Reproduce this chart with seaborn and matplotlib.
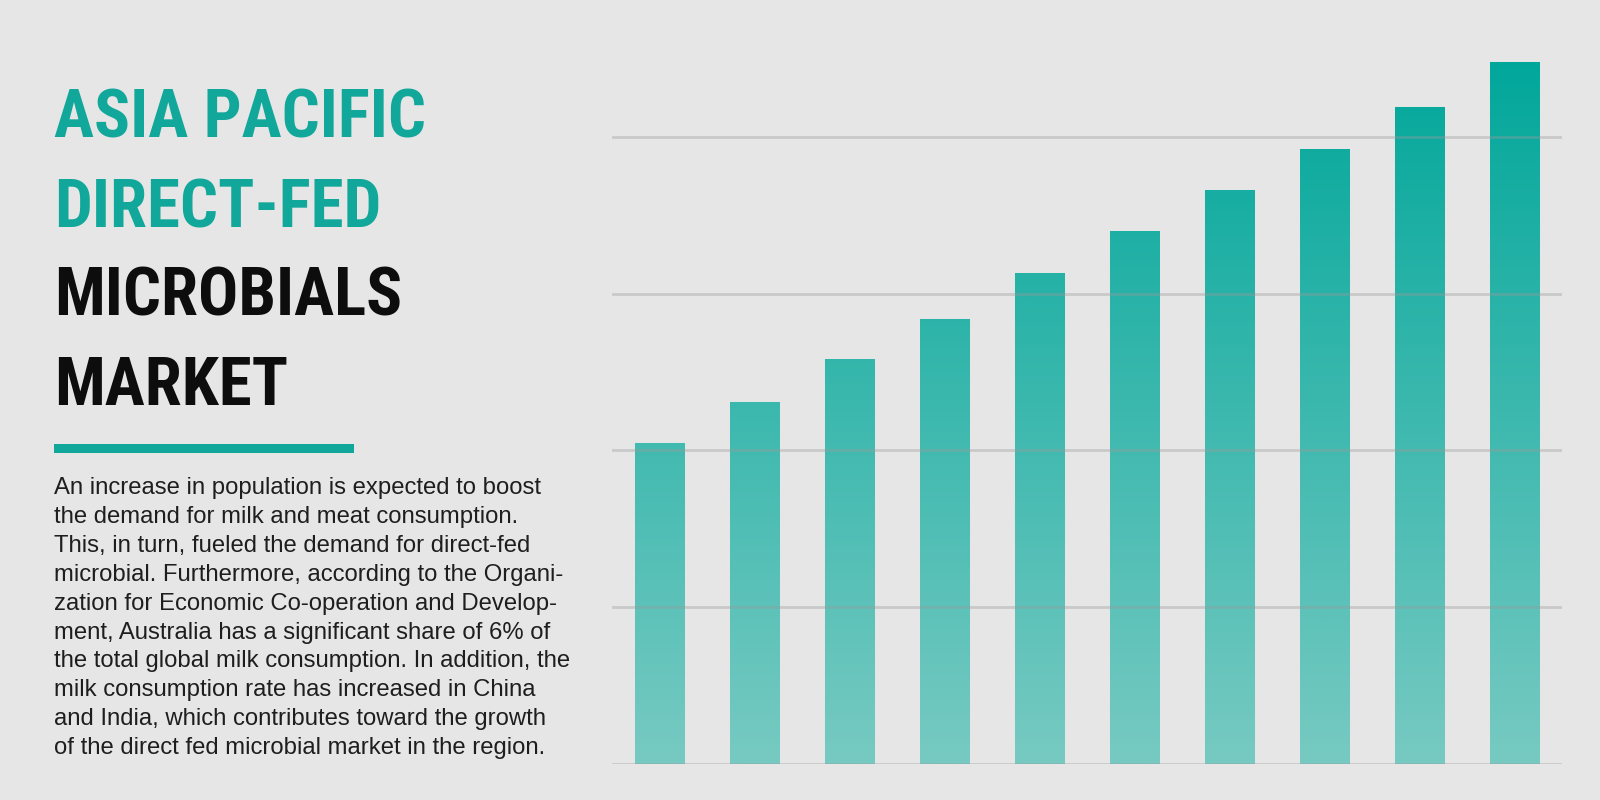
import numpy as np
import pandas as pd
import matplotlib
matplotlib.use("Agg")
import matplotlib.pyplot as plt
import seaborn as sns
from matplotlib.colors import LinearSegmentedColormap, Normalize
from matplotlib.patches import Rectangle

# ---------------- data ----------------
periods = ["P1", "P2", "P3", "P4", "P5", "P6", "P7", "P8", "P9", "P10"]
market_values = [2.05, 2.31, 2.58, 2.84, 3.13, 3.40, 3.66, 3.92, 4.19, 4.48]
grid_ticks = [0, 1, 2, 3, 4]

title_teal_lines = ["ASIA PACIFIC", "DIRECT-FED"]
title_dark_lines = ["MICROBIALS", "MARKET"]
body_lines = [
    "An increase in population is expected to boost",
    "the demand for milk and meat consumption.",
    "This, in turn, fueled the demand for direct-fed",
    "microbial. Furthermore, according to the Organi-",
    "zation for Economic Co-operation and Develop-",
    "ment, Australia has a significant share of 6% of",
    "the total global milk consumption. In addition, the",
    "milk consumption rate has increased in China",
    "and India, which contributes toward the growth",
    "of the direct fed microbial market in the region.",
]

# ---------------- style ----------------
BG = "#e6e6e6"
TEAL = "#12a79b"
BAR_TOP = "#02a79b"
BAR_BOTTOM = "#77cac2"

sns.set_theme(style="white")
plt.rcParams["font.family"] = ["Liberation Sans", "DejaVu Sans"]

W, H = 1600, 800
fig = plt.figure(figsize=(16, 8), dpi=100, facecolor=BG)

# chart axes (pixel geometry -> figure fractions)
ymax = 4.7
ax = fig.add_axes([611.7 / W, 36 / H, 950 / W, ymax * 156.8 / H])
ax.set_facecolor(BG)

df = pd.DataFrame({"period": periods, "value": market_values})
sns.barplot(data=df, x="period", y="value", color=BAR_BOTTOM, width=0.52,
            ax=ax, edgecolor="#b8e6e0", linewidth=0.8, zorder=1)

# vertical gradient (absolute height based) clipped to each bar
cmap = LinearSegmentedColormap.from_list("tealgrad", [BAR_BOTTOM, BAR_TOP])
grad = np.linspace(0, ymax, 400).reshape(-1, 1)
norm = Normalize(vmin=0, vmax=max(market_values), clip=True)
for p in list(ax.patches):
    x0 = p.get_x()
    x1 = x0 + p.get_width()
    im = ax.imshow(grad, extent=[x0, x1, 0, ymax], origin="lower",
                   aspect="auto", cmap=cmap, norm=norm, zorder=1.2,
                   interpolation="bilinear")
    im.set_clip_path(p)

ax.set_xlim(-0.5, len(periods) - 0.5)
ax.set_ylim(0, ymax)
ax.set_yticks(grid_ticks)
ax.set_axisbelow(False)
ax.yaxis.grid(True, color="#9a9a9a", alpha=0.38, linewidth=2)
ax.xaxis.grid(False)
ax.tick_params(length=0, labelleft=False, labelbottom=False)
ax.set_xlabel("")
ax.set_ylabel("")
for s in ax.spines.values():
    s.set_visible(False)

# ---------------- title ----------------
title_font = ["Liberation Sans Narrow", "Roboto Condensed", "DejaVu Sans Condensed",
              "Open Sans Condensed", "DejaVu Sans"]
title_baselines = [137, 227, 316, 405]
title_lines = [(t, TEAL) for t in title_teal_lines] + [(t, "#0d0d0d") for t in title_dark_lines]

renderer = fig.canvas.get_renderer()
# size the condensed display font so the widest line roughly fits its reference width
probe = fig.text(0, 0, title_teal_lines[0], fontsize=50, fontweight="bold",
                 family=title_font, fontstretch="condensed")
bb = probe.get_window_extent(renderer)
probe.remove()
size_w = 50 * 348 / bb.width * 1.07
size_h = 60.0
title_size = min(size_w, size_h)

for (txt, col), yb in zip(title_lines, title_baselines):
    fig.text(54 / W, 1 - yb / H, txt, color=col, fontsize=title_size, fontweight="bold",
             family=title_font, fontstretch="condensed", va="baseline", ha="left")

# underline bar
fig.add_artist(Rectangle((54 / W, 1 - 453 / H), 300 / W, 9 / H,
                         transform=fig.transFigure, color=TEAL, lw=0))

# ---------------- body text ----------------
for i, line in enumerate(body_lines):
    yb = 494 + i * 28.9
    fig.text(54 / W, 1 - yb / H, line, color="#1e1e1e", fontsize=17.2,
             family=["Liberation Sans", "DejaVu Sans"], va="baseline", ha="left")

fig.savefig("out.png", dpi=100, facecolor=BG)
